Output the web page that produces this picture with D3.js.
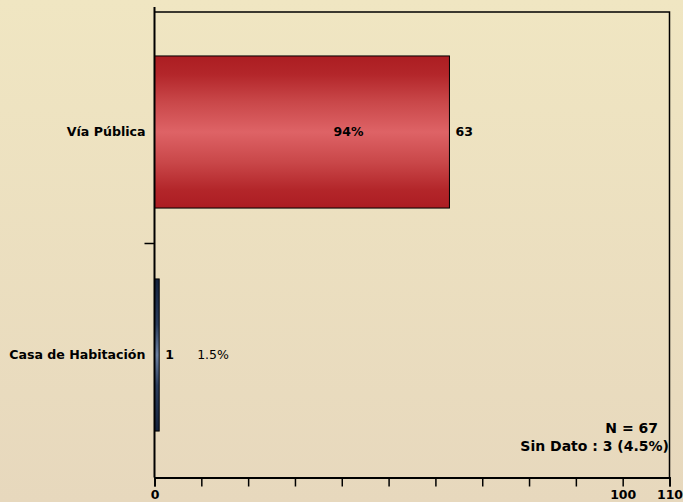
<!DOCTYPE html>
<html><head><meta charset="utf-8">
<script src="https://cdn.jsdelivr.net/npm/d3@7"></script>
<style>html,body{margin:0;padding:0;overflow:hidden;}svg{display:block;}</style>
</head><body>
<script>
const categories = ["Vía Pública", "Casa de Habitación"];
const values = [63, 1];
const percents = ["94%", "1.5%"];
const tickValues = [0,10,20,30,40,50,60,70,80,90,100,110];
const tickLabels = ["0","","","","","","","","","","100","110"];
const noteLines = ["N = 67", "Sin Dato : 3 (4.5%)"];

(function(){
const W = 683, H = 502;
const svg = d3.select("body").append("svg").attr("width", W).attr("height", H);
const defs = svg.append("defs");
const bg = defs.append("linearGradient").attr("id","bg").attr("x1",0).attr("y1",0).attr("x2",0).attr("y2",1);
bg.append("stop").attr("offset","0%").attr("stop-color","#F0E6C2");
bg.append("stop").attr("offset","100%").attr("stop-color","#E7D8BD");
const rg = defs.append("linearGradient").attr("id","red").attr("x1",0).attr("y1",0).attr("x2",0).attr("y2",1);
[["0%","#AC1D22"],["12%","#B3262A"],["30%","#C94749"],["50%","#DE6366"],["70%","#C94749"],["88%","#B3262A"],["100%","#AC1D22"]]
  .forEach(s=>rg.append("stop").attr("offset",s[0]).attr("stop-color",s[1]));
const bgr = defs.append("linearGradient").attr("id","navy").attr("x1",0).attr("y1",0).attr("x2",0).attr("y2",1);
[["0%","#15233D"],["30%","#2B3D5C"],["50%","#6A7FA0"],["70%","#2B3D5C"],["100%","#15233D"]]
  .forEach(s=>bgr.append("stop").attr("offset",s[0]).attr("stop-color",s[1]));
const fills = ["url(#red)", "url(#navy)"];

svg.append("rect").attr("width",W).attr("height",H).attr("fill","url(#bg)");

const pl = 154.5, pr = 669.5, pt = 12, pb = 477.5;
const x = d3.scaleLinear().domain([0,110]).range([pl, pr]);
const y = d3.scaleBand().domain(categories).range([20.5, 466.5]).paddingInner(0.318).paddingOuter(0.159);

const font = "'DejaVu Sans', Verdana, sans-serif";

svg.append("path").attr("d",`M${pl},${pt}H${pr}V${pb}`).attr("fill","none").attr("stroke","#000").attr("stroke-width",1.5);

svg.selectAll("rect.bar").data(categories).enter().append("rect")
  .attr("class","bar")
  .attr("x", x(0)).attr("y", d=>y(d))
  .attr("width", (d,i)=>x(values[i])-x(0))
  .attr("height", y.bandwidth())
  .attr("fill", (d,i)=>fills[i])
  .attr("stroke","#000").attr("stroke-width",1);

const xAxis = d3.axisBottom(x).tickValues(tickValues).tickSize(9).tickPadding(4)
  .tickFormat((d,i)=>tickLabels[i]);
const gx = svg.append("g").attr("transform",`translate(0,${pb})`).call(xAxis);
gx.select(".domain").attr("stroke","#000").attr("stroke-width",1.8);
gx.selectAll(".tick line").attr("stroke","#000").attr("stroke-width",1.5);
gx.selectAll(".tick text").attr("fill","#000").style("font-family",font).style("font-weight","bold").style("font-size","12.5px");

svg.append("line").attr("x1",pl).attr("x2",pl).attr("y1",7).attr("y2",pb)
  .attr("stroke","#000").attr("stroke-width",2);
const sep = (y(categories[0]) + y.bandwidth() + y(categories[1]))/2;
svg.append("line").attr("x1",pl-10).attr("x2",pl).attr("y1",sep).attr("y2",sep)
  .attr("stroke","#000").attr("stroke-width",1.5);

svg.selectAll("text.cat").data(categories).enter().append("text")
  .attr("class","cat")
  .attr("x", pl-9).attr("y", d=>y(d)+y.bandwidth()/2)
  .attr("dy","0.35em").attr("text-anchor","end")
  .style("font-family",font).style("font-weight","bold").style("font-size","12.6px")
  .text(d=>d);

svg.selectAll("text.val").data(categories).enter().append("text")
  .attr("class","val")
  .attr("x", (d,i)=>x(values[i])+6).attr("y", d=>y(d)+y.bandwidth()/2)
  .attr("dy","0.35em")
  .style("font-family",font).style("font-weight","bold").style("font-size","12.5px")
  .text((d,i)=>values[i]);

svg.selectAll("text.pct").data(categories).enter().append("text")
  .attr("class","pct")
  .attr("x", (d,i)=> i===0 ? x(values[i]) - 101 : x(values[i]) + 38)
  .attr("y", d=>y(d)+y.bandwidth()/2)
  .attr("dy","0.35em")
  .attr("text-anchor",(d,i)=> i===0 ? "middle" : "start")
  .style("font-family",font).style("font-weight",(d,i)=> i===0 ? "bold" : "normal").style("font-size","12.5px")
  .text((d,i)=>percents[i]);

svg.append("text").attr("x",658).attr("y",433).attr("text-anchor","end")
  .style("font-family",font).style("font-weight","bold").style("font-size","14px").text(noteLines[0]);
svg.append("text").attr("x",669).attr("y",451).attr("text-anchor","end")
  .style("font-family",font).style("font-weight","bold").style("font-size","14px").text(noteLines[1]);
})();
</script>
</body></html>
